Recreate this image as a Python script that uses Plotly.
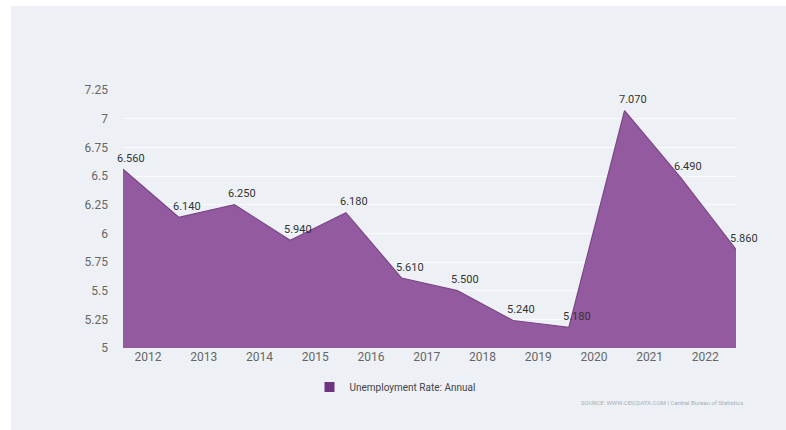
import plotly.graph_objects as go

years = ["2012", "2013", "2014", "2015", "2016", "2017", "2018", "2019", "2020", "2021", "2022"]
rate = [6.56, 6.14, 6.25, 5.94, 6.18, 5.61, 5.50, 5.24, 5.18, 7.07, 6.49, 5.86]
y_ticks = [5, 5.25, 5.5, 5.75, 6, 6.25, 6.5, 6.75, 7, 7.25]
y_tick_text = ["5", "5.25", "5.5", "5.75", "6", "6.25", "6.5", "6.75", "7", "7.25"]
series_name = "Unemployment Rate: Annual"

W, H = 786, 430
L, R, T, B = 123, 50, 90, 82
pw, ph = W - L - R, H - T - B

xs = list(range(len(rate)))
tick_pos = [i + 0.45 for i in range(len(years))]

fig = go.Figure()
fig.add_trace(go.Scatter(
    x=xs, y=rate, mode="lines", fill="tozeroy",
    fillcolor="#945aa0", line=dict(color="#7a4787", width=1.2),
    name=series_name, showlegend=False,
))
# legend entry with square swatch
fig.add_trace(go.Scatter(
    x=[None], y=[None], mode="markers",
    marker=dict(symbol="square", size=10, color="#6e3380"),
    name=series_name, showlegend=True,
))

for x, v in zip(xs, rate):
    fig.add_annotation(x=x, y=v, text=f"{v:.3f}", showarrow=False,
                       xshift=8, yshift=11,
                       font=dict(family="Roboto", size=11, color="#333333"))

fig.add_annotation(xref="paper", yref="paper",
                   x=(745 - L) / pw, y=(H - B - 402) / ph,
                   xanchor="right", yanchor="middle", showarrow=False,
                   text="SOURCE: WWW.CEICDATA.COM | Central Bureau of Statistics",
                   font=dict(family="Roboto", size=6, color="#a8adb5"))

fig.add_shape(type="rect", xref="paper", yref="paper", layer="below",
              x0=(11 - L) / pw, x1=(W + 20 - L) / pw,
              y0=(H - B - (H + 20)) / ph, y1=(H - B - 6) / ph,
              fillcolor="#edf1f5", line=dict(width=0))

fig.update_layout(
    width=W, height=H,
    margin=dict(l=L, r=R, t=T, b=B),
    paper_bgcolor="white", plot_bgcolor="rgba(0,0,0,0)",
    font=dict(family="Roboto", color="#666666"),
    xaxis=dict(range=[0, 11], tickvals=tick_pos, ticktext=years,
               showgrid=False, zeroline=False, showline=False,
               tickfont=dict(size=12, color="#666666"), ticks=""),
    yaxis=dict(range=[5, 7.25], tickvals=y_ticks, ticktext=y_tick_text,
               showgrid=True, gridcolor="#f9fbfd", gridwidth=1,
               zeroline=False, showline=False, ticks="",
               tickfont=dict(size=12, color="#666666"), ticklabelstandoff=14),
    legend=dict(orientation="h", x=(395 - L) / pw, xanchor="center",
                y=(H - B - 387) / ph, yanchor="middle", itemwidth=30,
                font=dict(size=10, color="#444444"), bgcolor="rgba(0,0,0,0)"),
    showlegend=True,
)

fig.write_html("out.html")
